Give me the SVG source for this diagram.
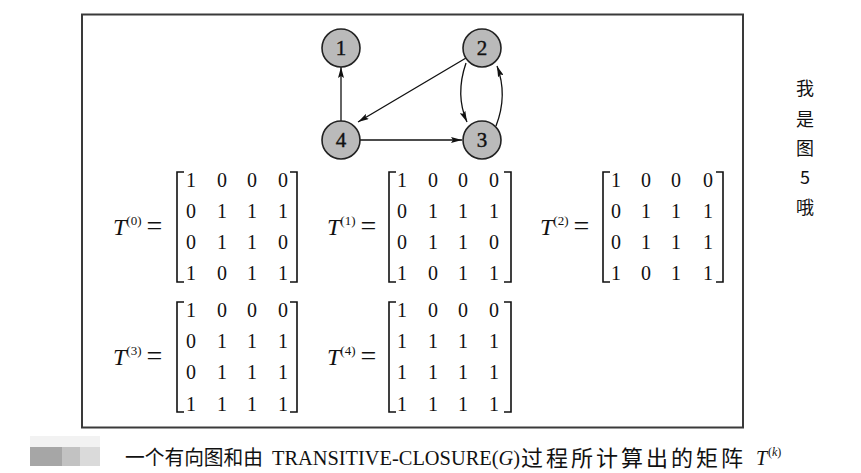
<svg xmlns="http://www.w3.org/2000/svg" width="861" height="473" viewBox="0 0 861 473">
<defs>
<marker id="arr" viewBox="0 0 11 6" refX="11" refY="3" markerWidth="11" markerHeight="6" markerUnits="userSpaceOnUse" orient="auto">
<path d="M0,0 L11,3 L0,6 L2,3 Z" fill="#111"/>
</marker>
</defs>
<style>
.frame{fill:none;stroke:#3a3a3a;stroke-width:2}
.node circle{fill:#bababa;stroke:#222;stroke-width:1.6}
.node text{font-family:"Liberation Serif",serif;font-size:21px;text-anchor:middle;fill:#111;stroke:#111;stroke-width:0.4}
.edge{fill:none;stroke:#111;stroke-width:1.3;marker-end:url(#arr)}
.m text{font-family:"Liberation Serif",serif;font-size:20px;text-anchor:middle;fill:#111}
.br{fill:none;stroke:#111;stroke-width:1.6}
.lab{font-family:"Liberation Serif",serif;font-size:24px;fill:#111}
.it{font-style:italic}
.sup{font-size:13px}
.eq{font-size:28px}
.side{font-family:"Noto Sans CJK SC",sans-serif;font-size:18px;text-anchor:middle;fill:#111}
.cap{font-family:"Liberation Serif","Noto Sans CJK SC",serif;font-size:20px;fill:#111}
.cap2{font-family:"Noto Sans CJK SC",serif;font-size:22px;fill:#111}
.capsup{font-family:"Liberation Serif",serif;font-size:12px;fill:#111}
</style>
<rect x="0" y="0" width="861" height="473" fill="#fff"/>
<rect class="frame" x="82" y="14.5" width="661" height="413"/>

<g id="connectors">
<line class="edge" x1="341" y1="121" x2="341" y2="67"/>
<line class="edge" x1="466" y1="58" x2="358" y2="122"/>
<line class="edge" x1="360" y1="140" x2="462" y2="140"/>
<path class="edge" d="M466,63 Q455,95 467,122"/>
<path class="edge" d="M496,126 Q508,95 497,66"/>
</g>

<g id="node1" class="node"><circle cx="341" cy="48" r="19"/><text x="341" y="55">1</text></g>
<g id="node2" class="node"><circle cx="482" cy="48" r="19"/><text x="482" y="55">2</text></g>
<g id="node4" class="node"><circle cx="341" cy="140" r="19"/><text x="341" y="147">4</text></g>
<g id="node3" class="node"><circle cx="482" cy="140" r="19"/><text x="482" y="147">3</text></g>

<g id="T0">
<text class="lab" x="113" y="235"><tspan class="it">T</tspan><tspan class="sup" dy="-10">(0)</tspan><tspan class="eq" dx="5" dy="10">=</tspan></text>
<path class="br" d="M184,172 H177 V282 H184 M290,172 H297 V282 H290"/>
<g class="m">
<text x="191" y="187">1</text><text x="222" y="187">0</text><text x="252" y="187">0</text><text x="283" y="187">0</text>
<text x="191" y="218">0</text><text x="222" y="218">1</text><text x="252" y="218">1</text><text x="283" y="218">1</text>
<text x="191" y="249">0</text><text x="222" y="249">1</text><text x="252" y="249">1</text><text x="283" y="249">0</text>
<text x="191" y="280">1</text><text x="222" y="280">0</text><text x="252" y="280">1</text><text x="283" y="280">1</text>
</g>
</g>

<g id="T1">
<text class="lab" x="327" y="235"><tspan class="it">T</tspan><tspan class="sup" dy="-10">(1)</tspan><tspan class="eq" dx="5" dy="10">=</tspan></text>
<path class="br" d="M396,172 H389 V282 H396 M504,172 H511 V282 H504"/>
<g class="m">
<text x="402" y="187">1</text><text x="433" y="187">0</text><text x="463" y="187">0</text><text x="494" y="187">0</text>
<text x="402" y="218">0</text><text x="433" y="218">1</text><text x="463" y="218">1</text><text x="494" y="218">1</text>
<text x="402" y="249">0</text><text x="433" y="249">1</text><text x="463" y="249">1</text><text x="494" y="249">0</text>
<text x="402" y="280">1</text><text x="433" y="280">0</text><text x="463" y="280">1</text><text x="494" y="280">1</text>
</g>
</g>

<g id="T2">
<text class="lab" x="540" y="235"><tspan class="it">T</tspan><tspan class="sup" dy="-10">(2)</tspan><tspan class="eq" dx="5" dy="10">=</tspan></text>
<path class="br" d="M610,172 H603 V282 H610 M716,172 H723 V282 H716"/>
<g class="m">
<text x="616" y="187">1</text><text x="646" y="187">0</text><text x="676" y="187">0</text><text x="708" y="187">0</text>
<text x="616" y="218">0</text><text x="646" y="218">1</text><text x="676" y="218">1</text><text x="708" y="218">1</text>
<text x="616" y="249">0</text><text x="646" y="249">1</text><text x="676" y="249">1</text><text x="708" y="249">1</text>
<text x="616" y="280">1</text><text x="646" y="280">0</text><text x="676" y="280">1</text><text x="708" y="280">1</text>
</g>
</g>

<g id="T3">
<text class="lab" x="113" y="365"><tspan class="it">T</tspan><tspan class="sup" dy="-10">(3)</tspan><tspan class="eq" dx="5" dy="10">=</tspan></text>
<path class="br" d="M184,302 H177 V412 H184 M290,302 H297 V412 H290"/>
<g class="m">
<text x="191" y="317">1</text><text x="222" y="317">0</text><text x="252" y="317">0</text><text x="283" y="317">0</text>
<text x="191" y="348">0</text><text x="222" y="348">1</text><text x="252" y="348">1</text><text x="283" y="348">1</text>
<text x="191" y="379">0</text><text x="222" y="379">1</text><text x="252" y="379">1</text><text x="283" y="379">1</text>
<text x="191" y="411">1</text><text x="222" y="411">1</text><text x="252" y="411">1</text><text x="283" y="411">1</text>
</g>
</g>

<g id="T4">
<text class="lab" x="327" y="365"><tspan class="it">T</tspan><tspan class="sup" dy="-10">(4)</tspan><tspan class="eq" dx="5" dy="10">=</tspan></text>
<path class="br" d="M396,302 H389 V412 H396 M504,302 H511 V412 H504"/>
<g class="m">
<text x="402" y="317">1</text><text x="433" y="317">0</text><text x="463" y="317">0</text><text x="494" y="317">0</text>
<text x="402" y="348">1</text><text x="433" y="348">1</text><text x="463" y="348">1</text><text x="494" y="348">1</text>
<text x="402" y="379">1</text><text x="433" y="379">1</text><text x="463" y="379">1</text><text x="494" y="379">1</text>
<text x="402" y="411">1</text><text x="433" y="411">1</text><text x="463" y="411">1</text><text x="494" y="411">1</text>
</g>
</g>

<g id="side-note">
<text class="side" x="805" y="95">我</text>
<text class="side" x="805" y="126">是</text>
<text class="side" x="805" y="155">图</text>
<text class="side" x="805" y="184">5</text>
<text class="side" x="805" y="214">哦</text>
</g>

<g id="blur">
<rect x="30" y="436" width="70" height="11" fill="#f2f2f2"/>
<rect x="30" y="447" width="32" height="19" fill="#a6a6a6"/>
<rect x="62" y="447" width="18" height="19" fill="#c2c2c2"/>
<rect x="80" y="447" width="20" height="19" fill="#dadada"/>
</g>

<g id="caption">
<text class="cap" x="125" y="465" textLength="138" lengthAdjust="spacingAndGlyphs">一个有向图和由</text>
<text class="cap" x="272" y="465" textLength="248" lengthAdjust="spacingAndGlyphs">TRANSITIVE-CLOSURE(<tspan class="it">G</tspan>)</text>
<text class="cap2" x="521" y="466" textLength="222" lengthAdjust="spacing">过程所计算出的矩阵</text>
<text class="cap" x="756" y="465"><tspan class="it">T</tspan></text>
<text class="capsup" x="768" y="456">(<tspan class="it">k</tspan>)</text>
</g>
</svg>
